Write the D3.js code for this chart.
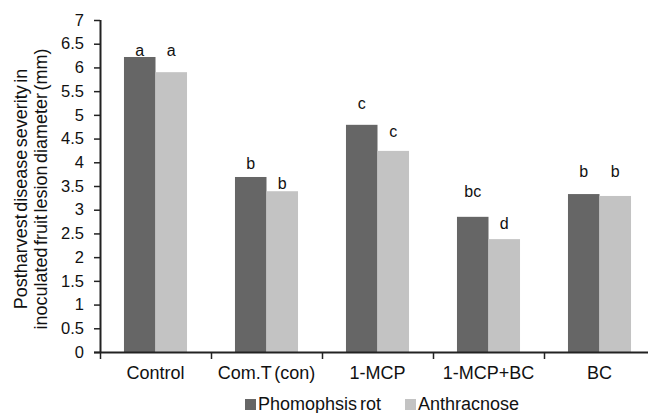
<!DOCTYPE html>
<html>
<head>
<meta charset="utf-8">
<script src="https://cdn.jsdelivr.net/npm/d3@7"></script>
<style>
  html, body { margin: 0; padding: 0; background: #fff; }
  svg { display: block; font-family: "Liberation Sans", Arial, sans-serif; }
</style>
</head>
<body>
<svg id="chart" width="648" height="413"></svg>
<script>
const categories = ["Control", "Com.T (con)", "1-MCP", "1-MCP+BC", "BC"];
const seriesNames = ["Phomophsis rot", "Anthracnose"];
const phomopsis = [6.22, 3.69, 4.79, 2.85, 3.33];
const anthracnose = [5.90, 3.39, 4.24, 2.38, 3.29];
const phomopsisLetters = ["a", "b", "c", "bc", "b"];
const anthracnoseLetters = ["a", "b", "c", "d", "b"];
const phomopsisLetterLevel = [6.36, 3.98, 5.25, 3.39, 3.80];
const anthracnoseLetterLevel = [6.36, 3.56, 4.66, 2.72, 3.80];
const yTicks = [0, 0.5, 1, 1.5, 2, 2.5, 3, 3.5, 4, 4.5, 5, 5.5, 6, 6.5, 7];
const yTitle = ["Postharvest disease severity in", "inoculated fruit lesion diameter (mm)"];
const colors = ["#666666", "#c3c3c3"];

const svg = d3.select("#chart");
const mLeft = 100, mRight = 655, mTop = 20, mBottom = 352;

const x0 = d3.scaleBand().domain(categories).range([mLeft, mRight]).padding(0);
const bw = x0.bandwidth();
const x1 = d3.scaleBand().domain(seriesNames).range([bw * 0.216, bw * 0.784]).padding(0);
const y = d3.scaleLinear().domain([0, 7]).range([mBottom, mTop]);

const values = [phomopsis, anthracnose];
const letters = [phomopsisLetters, anthracnoseLetters];
const letterLevels = [phomopsisLetterLevel, anthracnoseLetterLevel];

// bars
const groups = svg.append("g").selectAll("g")
  .data(categories).join("g")
  .attr("transform", d => `translate(${x0(d)},0)`);

groups.selectAll("rect")
  .data((d, i) => seriesNames.map((s, j) => ({ s, j, v: values[j][i] })))
  .join("rect")
  .attr("x", d => x1(d.s))
  .attr("y", d => y(d.v))
  .attr("width", x1.bandwidth())
  .attr("height", d => y(0) - y(d.v))
  .attr("fill", d => colors[d.j]);

groups.selectAll("text.letter")
  .data((d, i) => seriesNames.map((s, j) => ({ s, j, t: letters[j][i], l: letterLevels[j][i] })))
  .join("text")
  .attr("class", "letter")
  .attr("x", d => x1(d.s) + x1.bandwidth() / 2)
  .attr("y", d => y(d.l))
  .attr("dy", "0.35em")
  .attr("text-anchor", "middle")
  .attr("font-size", 16)
  .attr("fill", "#111")
  .text(d => d.t);

// y axis
const yAxis = svg.append("g")
  .attr("transform", `translate(${mLeft},0)`)
  .call(d3.axisLeft(y).tickValues(yTicks).tickSize(6).tickPadding(10)
    .tickFormat(d => String(d)));
yAxis.select(".domain").attr("stroke", "#222").attr("stroke-width", 2)
  .attr("d", `M0.5,${mTop}V${mBottom}`);
yAxis.selectAll(".tick line").attr("stroke", "#222").attr("stroke-width", 1.5);
yAxis.selectAll(".tick text").attr("font-size", 16.5).attr("fill", "#111")
  .attr("font-family", "Liberation Sans, Arial, sans-serif");

// x axis
const xAxis = svg.append("g")
  .attr("transform", `translate(0,${mBottom})`)
  .call(d3.axisBottom(x0).tickSize(0).tickPadding(14));
xAxis.select(".domain").attr("stroke", "#222").attr("stroke-width", 2)
  .attr("d", `M${mLeft - 6},0.5H${mRight}`);
xAxis.selectAll(".tick text").attr("font-size", 18).attr("fill", "#111")
  .attr("word-spacing", -2)
  .attr("font-family", "Liberation Sans, Arial, sans-serif");
// boundary ticks
const bounds = categories.map(c => x0(c)).concat([x0(categories[categories.length - 1]) + bw]);
xAxis.append("g").selectAll("line")
  .data(bounds).join("line")
  .attr("x1", d => d + 0.5).attr("x2", d => d + 0.5)
  .attr("y1", 0).attr("y2", 7)
  .attr("stroke", "#222").attr("stroke-width", 1.5);

// y title
const yt = svg.append("text")
  .attr("transform", `translate(0,189) rotate(-90)`)
  .attr("text-anchor", "middle")
  .attr("font-size", 18)
  .attr("word-spacing", -2.5)
  .attr("fill", "#111");
yt.selectAll("tspan").data(yTitle).join("tspan")
  .attr("x", 0)
  .attr("y", (d, i) => 27 + i * 20)
  .text(d => d);

// legend
const legend = svg.append("g").attr("transform", "translate(245,404)");
const legendX = [0, 160];
seriesNames.forEach((s, i) => {
  const g = legend.append("g").attr("transform", `translate(${legendX[i]},0)`);
  g.append("rect").attr("x", 0).attr("y", -5).attr("width", 11).attr("height", 11).attr("fill", colors[i]);
  g.append("text").attr("x", 13).attr("y", 6)
    .attr("font-size", 18).attr("word-spacing", -2).attr("fill", "#111").text(s);
});
</script>
</body>
</html>
